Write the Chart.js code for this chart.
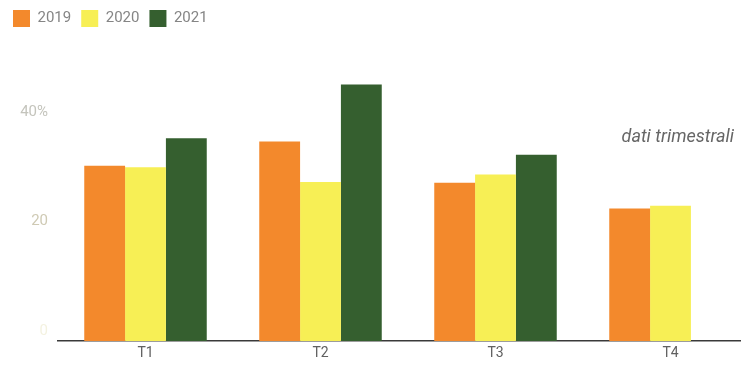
<!DOCTYPE html>
<html>
<head>
<meta charset="utf-8">
<script src="https://cdn.jsdelivr.net/npm/chart.js@4.4.1/dist/chart.umd.min.js"></script>
<style>
    html, body { margin: 0; padding: 0; background: #fff; }
    #wrap { width: 741px; height: 372px; overflow: hidden; position: relative; }
    #chart { display: block; }
</style>
</head>
<body>
<div id="wrap"><canvas id="chart" width="760" height="372"></canvas></div>
<script>
const trimestri = ['T1', 'T2', 'T3', 'T4'];
const anni = ['2019', '2020', '2021'];
const valori2019 = [32.0, 36.4, 28.9, 24.2];
const valori2020 = [31.7, 29.0, 30.4, 24.7];
const valori2021 = [37.0, 46.8, 34.0, null];
const yTicks = [0, 20, 40];
const nota = 'dati trimestrali';

const colori = ['#f3892c', '#f7ef55', '#355f2f'];
const font = 'Roboto, "Open Sans", sans-serif';

// spazio tra legenda e grafico
const legendGap = {
    id: 'legendGap',
    beforeInit(chart) {
        const fit = chart.legend.fit;
        chart.legend.fit = function () {
            fit.bind(chart.legend)();
            this.height += 30;
        };
    }
};

// nota in corsivo a destra
const notaPlugin = {
    id: 'nota',
    afterDraw(chart) {
        const ctx = chart.ctx;
        ctx.save();
        ctx.font = 'italic 18px ' + font;
        ctx.fillStyle = '#666';
        ctx.textAlign = 'right';
        ctx.textBaseline = 'alphabetic';
        ctx.fillText(nota, 734, 142);
        ctx.restore();
    }
};

const serie = [valori2019, valori2020, valori2021];

new Chart(document.getElementById('chart'), {
    type: 'bar',
    data: {
        labels: trimestri,
        datasets: anni.map((a, i) => ({
            label: a,
            data: serie[i],
            backgroundColor: colori[i],
            borderWidth: 0
        }))
    },
    options: {
        responsive: false,
        animation: false,
        layout: { padding: { left: 3, right: 2, top: 0, bottom: 0 } },
        datasets: { bar: { categoryPercentage: 0.7, barPercentage: 1 } },
        plugins: {
            legend: {
                position: 'top',
                align: 'start',
                labels: {
                    boxWidth: 17,
                    boxHeight: 17,
                    padding: 10,
                    color: '#858585',
                    font: { family: font, size: 15 }
                }
            },
            tooltip: { enabled: false }
        },
        scales: {
            x: {
                grid: { display: false, drawTicks: false },
                border: { display: true, color: '#3a3a3a', width: 1.5 },
                ticks: {
                    color: '#606060',
                    padding: 4,
                    font: { family: font, size: 14 }
                },
                afterFit(scale) { scale.height = 31; }
            },
            y: {
                min: 0,
                max: 50,
                grid: { display: false, drawTicks: false },
                border: { display: false },
                afterBuildTicks(scale) {
                    scale.ticks = yTicks.map(v => ({ value: v }));
                },
                ticks: {
                    padding: 10,
                    labelOffset: -10,
                    font: { family: font, size: 15 },
                    color: ctx => ctx.tick.value === 40 ? '#c4c4bc' : ctx.tick.value === 20 ? '#cfcab4' : '#f4f2e0',
                    callback: v => v === 40 ? '40%' : String(v)
                },
                afterFit(scale) { scale.width = 55; }
            }
        }
    },
    plugins: [legendGap, notaPlugin]
});
</script>
</body>
</html>
